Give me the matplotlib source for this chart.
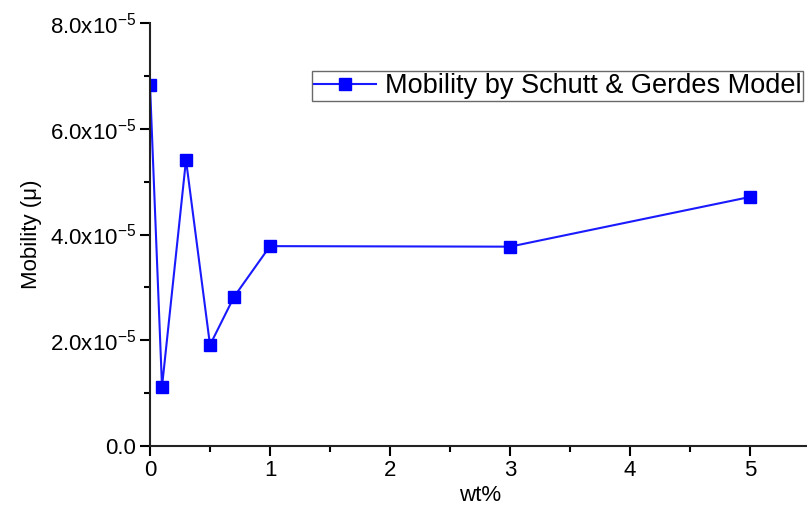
import numpy as np
import matplotlib
matplotlib.use("Agg")
import matplotlib.pyplot as plt
from matplotlib.ticker import MultipleLocator, FixedLocator

plt.rcParams['font.family'] = ['Liberation Sans', 'DejaVu Sans']
plt.rcParams['mathtext.fontset'] = 'custom'
plt.rcParams['mathtext.rm'] = 'Liberation Sans'
plt.rcParams['mathtext.it'] = 'Liberation Sans'
plt.rcParams['axes.unicode_minus'] = False

# data
wt = [0, 0.1, 0.3, 0.5, 0.7, 1, 3, 5]
mobility = [6.83e-5, 1.12e-5, 5.41e-5, 1.91e-5, 2.82e-5, 3.78e-5, 3.77e-5, 4.71e-5]

y_ticks = [0, 2e-5, 4e-5, 6e-5, 8e-5]
y_labels = ['0.0', r'2.0x10$^{\mathrm{-5}}$', r'4.0x10$^{\mathrm{-5}}$',
            r'6.0x10$^{\mathrm{-5}}$', r'8.0x10$^{\mathrm{-5}}$']

fig = plt.figure(figsize=(8.07, 5.08), dpi=100)
ax = fig.add_axes([150 / 807, 1 - 446 / 508, 660 / 807, 423 / 508])

ax.plot(wt, mobility, color='#1a1aff', marker='s', markersize=8, linewidth=1.5,
        markerfacecolor='blue', markeredgecolor='blue',
        label='Mobility by Schutt & Gerdes Model')

ax.set_xlim(0, 5.5)
ax.set_ylim(0, 8e-5)
ax.xaxis.set_major_locator(MultipleLocator(1))
ax.xaxis.set_minor_locator(MultipleLocator(0.5))
ax.yaxis.set_major_locator(FixedLocator(y_ticks))
ax.yaxis.set_minor_locator(MultipleLocator(1e-5))
ax.set_yticklabels(y_labels)

for s in ['top', 'right']:
    ax.spines[s].set_visible(False)
for s in ['left', 'bottom']:
    ax.spines[s].set_linewidth(1.5)
    ax.spines[s].set_color('#222222')

ax.tick_params(which='major', direction='out', length=7, width=1.5, labelsize=16, pad=3)
ax.tick_params(which='minor', direction='out', length=4, width=1.5)

ax.set_xlabel('wt%', fontsize=16, labelpad=3)
ax.set_ylabel('Mobility (μ)', fontsize=16, labelpad=6)

leg = ax.legend(loc='upper left', bbox_to_anchor=(312 / 807, 1 - 71 / 508),
                bbox_transform=fig.transFigure, fontsize=19.5, frameon=True,
                fancybox=False, handlelength=2.3, borderpad=0.08,
                handletextpad=0.3, borderaxespad=0)
leg.get_frame().set_edgecolor('#444444')
leg.get_frame().set_linewidth(1.0)

fig.savefig('out.png', dpi=100)
